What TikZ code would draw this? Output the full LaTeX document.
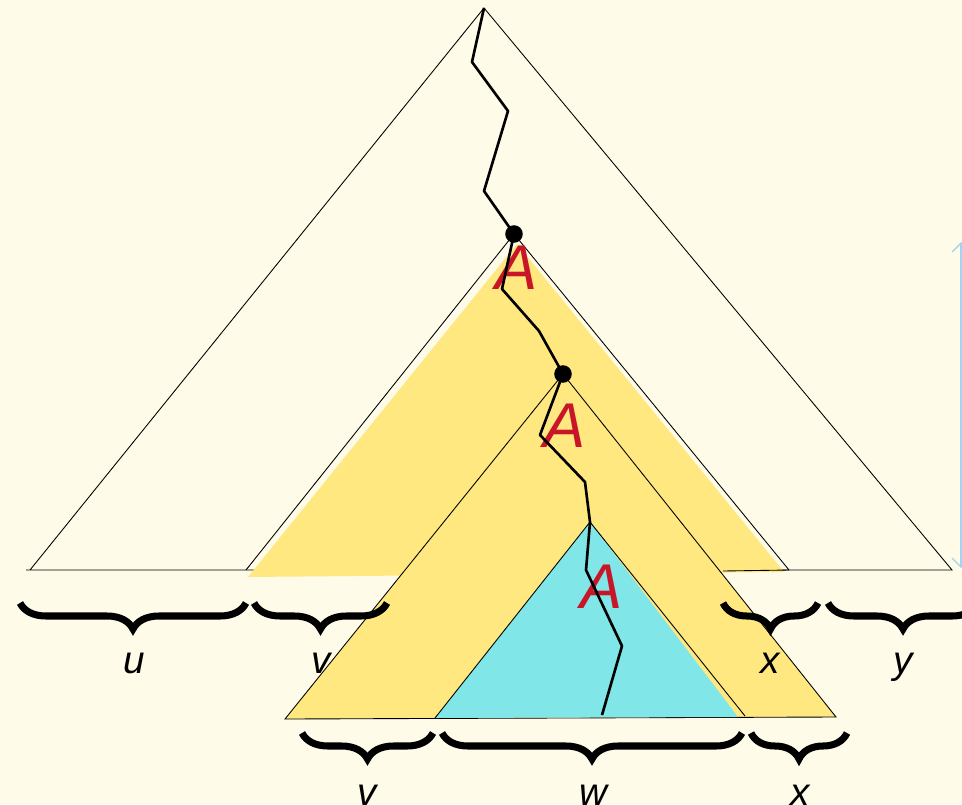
\documentclass[tikz,border=0pt]{standalone}
\usepackage{fontspec}
\setmainfont{Liberation Sans}
\usetikzlibrary{arrows.meta,decorations.pathreplacing}
\definecolor{cream}{RGB}{254,251,233}
\definecolor{sand}{RGB}{255,232,128}
\definecolor{aqua}{RGB}{128,230,232}
\definecolor{crimson}{RGB}{200,22,40}
\definecolor{skyline}{RGB}{160,212,240}

\begin{document}
\begin{tikzpicture}[x=0.02cm,y=-0.02cm,edge/.style={line width=0.5pt},walk/.style={line width=1.5pt,line join=round},brc/.style={decorate,decoration={brace,mirror,amplitude=0.52cm},line width=4pt},lbl/.style={anchor=base,font=\itshape\fontsize{22}{22}\selectfont},sym/.style={text=crimson,font=\itshape\fontsize{36}{36}\selectfont},dot/.style={circle,fill=black,inner sep=0pt,minimum size=10pt}]
\useasboundingbox[fill=cream] (0,0) rectangle (962,804);
\coordinate (top) at (484,8);
\coordinate (bl) at (30,570);
\coordinate (br) at (952,570);
\coordinate (p1) at (514,234);
\coordinate (p2) at (563,374);
\coordinate (p3) at (590,522);
\draw[edge] (26,570) -- (br) -- (top) -- (bl);
\fill[sand] (517,244) -- (248,577) -- (784,572) -- cycle;
\draw[edge] (246,570) -- (p1) -- (789,570);
\node[lbl] (u1) at (134,673) {u};
\node[lbl] (v1) at (321,673) {v};
\fill[sand] (285,719) -- (p2) -- (836,717) -- cycle;
\draw[edge] (285,719) -- (p2) -- (836,717) -- cycle;
\fill[aqua] (435,718) -- (p3) -- (738,717) -- cycle;
\draw[edge] (435,718) -- (p3) -- (745,716);
\draw[edge] (723,571) -- (789,570);
\node[lbl] (x1) at (770,673) {x};
\node[lbl] (y1) at (903,673) {y};
\node[lbl] (v2) at (367,805) {v};
\node[lbl] (w2) at (593,805) {w};
\node[lbl] (x2) at (800,805) {x};
\node[sym] (a1) at (517,268) {A};
\node[sym] (a2) at (565,426) {A};
\node[sym] (a3) at (602,587) {A};
\draw[walk] (top) -- (472,62) -- (508,111) -- (484,191) -- (p1) -- (502,289) -- (539,331) -- (p2) -- (540,435) -- (585,482) -- (p3) -- (586,570) -- (622,646) -- (602,715);
\node[dot] (d1) at (p1) {};
\node[dot] (d2) at (p2) {};
\draw[brc] (20,603) -- (246,603);
\draw[brc] (254,603) -- (387,603);
\draw[brc] (723,603) -- (818,603);
\draw[brc] (828,603) -- (978,603);
\draw[brc] (302,733) -- (433,733);
\draw[brc] (442,733) -- (742,733);
\draw[brc] (751,733) -- (847,733);
\coordinate (hi) at (961,242);
\coordinate (lo) at (961,568);
\draw[skyline,line width=0.8pt,{Straight Barb[length=5pt]}-{Straight Barb[length=5pt]}] (hi) -- (lo);
\end{tikzpicture}
\end{document}
